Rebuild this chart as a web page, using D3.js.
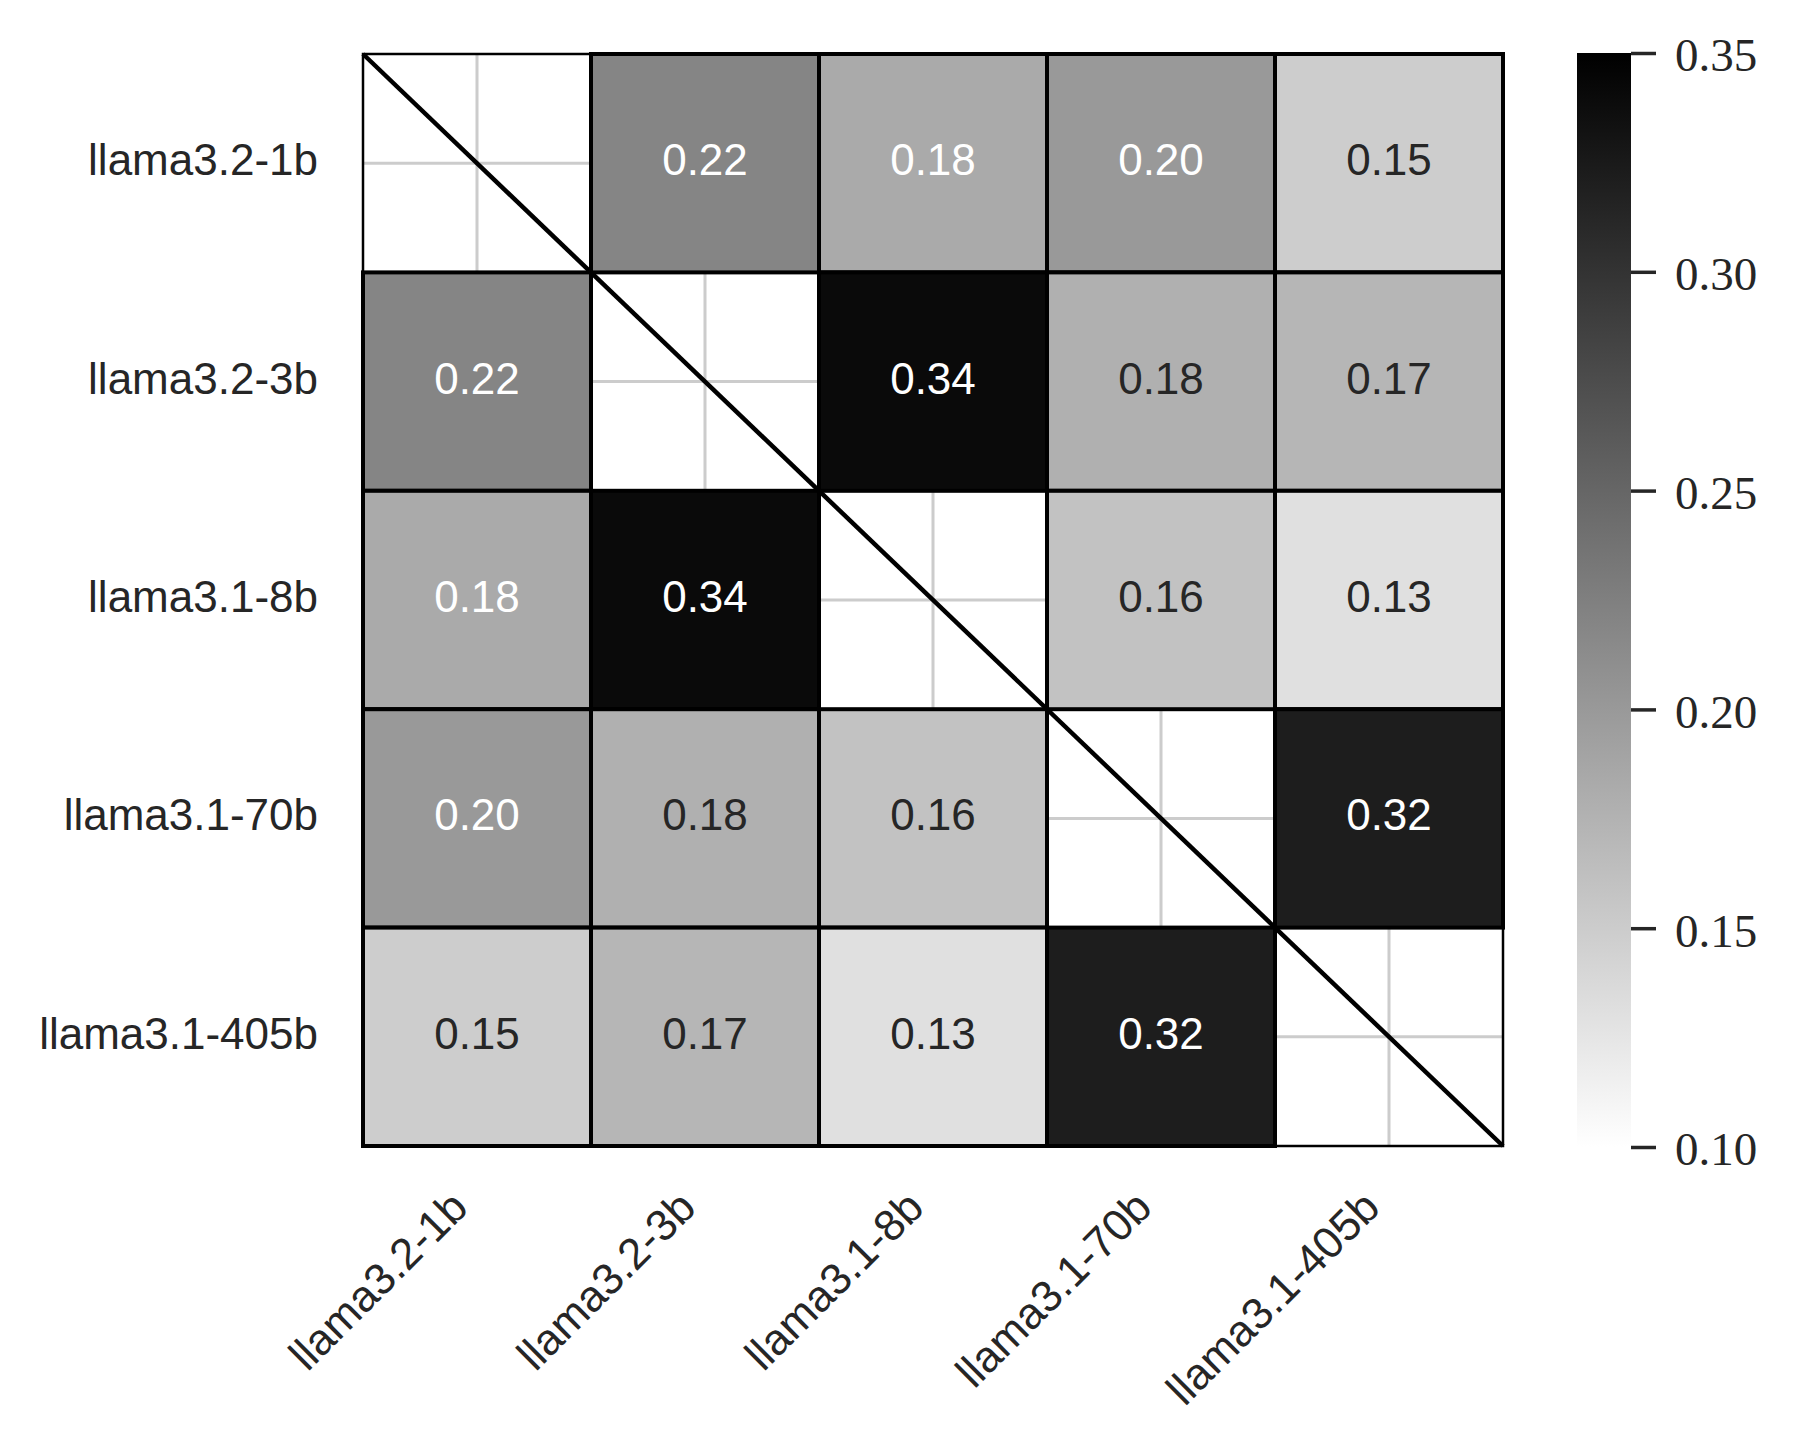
<!DOCTYPE html>
<html>
<head>
<meta charset="utf-8">
<script src="https://cdn.jsdelivr.net/npm/d3@7"></script>
<style>
  body { margin: 0; background: #fff; }
  .lbl { font-family: "Liberation Sans", Arial, sans-serif; font-size: 44px; fill: #262626; }
  .cbar text { font-family: "Liberation Serif", "DejaVu Serif", serif; font-size: 47px; fill: #262626; }
</style>
</head>
<body>
<div id="chart"></div>
<script>
// models compared (rows and columns)
var models = ["llama3.2-1b", "llama3.2-3b", "llama3.1-8b", "llama3.1-70b", "llama3.1-405b"];

// pairwise scores, diagonal left empty
var row1b   = [null,  0.22,  0.183, 0.20,  0.149];
var row3b   = [0.22,  null,  0.34,  0.177, 0.172];
var row8b   = [0.183, 0.34,  null,  0.16,  0.13];
var row70b  = [0.20,  0.177, 0.16,  null,  0.322];
var row405b = [0.149, 0.172, 0.13,  0.322, null];

var cbarTicks = [0.10, 0.15, 0.20, 0.25, 0.30, 0.35];

var rows = [row1b, row3b, row8b, row70b, row405b];

var W = 1797, H = 1456;
var plot = {left: 363, right: 1503, top: 54, bottom: 1146};

var svg = d3.select("#chart").append("svg")
  .attr("width", W).attr("height", H)
  .style("background", "#fff");

var x = d3.scaleBand().domain(models).range([plot.left, plot.right]);
var y = d3.scaleBand().domain(models).range([plot.top, plot.bottom]);
var color = d3.scaleLinear().domain([0.10, 0.35]).range(["#ffffff", "#000000"]);

// grid lines through cell centres (only seen in empty cells)
var grid = svg.append("g");
models.forEach(function(m) {
  grid.append("line")
    .attr("x1", x(m) + x.bandwidth() / 2).attr("x2", x(m) + x.bandwidth() / 2)
    .attr("y1", plot.top).attr("y2", plot.bottom)
    .attr("stroke", "#cccccc").attr("stroke-width", 3);
  grid.append("line")
    .attr("y1", y(m) + y.bandwidth() / 2).attr("y2", y(m) + y.bandwidth() / 2)
    .attr("x1", plot.left).attr("x2", plot.right)
    .attr("stroke", "#cccccc").attr("stroke-width", 3);
});

var cells = [];
rows.forEach(function(r, i) {
  r.forEach(function(v, j) {
    if (v !== null) cells.push({row: models[i], col: models[j], value: v});
  });
});

function textColor(v) {
  var c = d3.rgb(color(v));
  var lin = function(u) { u = u / 255; return u <= 0.03928 ? u / 12.92 : Math.pow((u + 0.055) / 1.055, 2.4); };
  var lum = 0.2126 * lin(c.r) + 0.7152 * lin(c.g) + 0.0722 * lin(c.b);
  return lum > 0.408 ? "#262626" : "#ffffff";
}

var cg = svg.append("g");
cg.selectAll("rect").data(cells).enter().append("rect")
  .attr("x", function(d) { return x(d.col); })
  .attr("y", function(d) { return y(d.row); })
  .attr("width", x.bandwidth())
  .attr("height", y.bandwidth())
  .attr("fill", function(d) { return color(d.value); })
  .attr("stroke", "#000").attr("stroke-width", 4);

cg.selectAll("text").data(cells).enter().append("text")
  .attr("class", "lbl")
  .attr("x", function(d) { return x(d.col) + x.bandwidth() / 2; })
  .attr("y", function(d) { return y(d.row) + y.bandwidth() / 2 + 12; })
  .attr("text-anchor", "middle")
  .style("fill", function(d) { return textColor(d.value); })
  .text(function(d) { return d3.format(".2f")(d.value); });

// frame and diagonal
svg.append("rect")
  .attr("x", plot.left).attr("y", plot.top)
  .attr("width", plot.right - plot.left).attr("height", plot.bottom - plot.top)
  .attr("fill", "none").attr("stroke", "#000").attr("stroke-width", 2.5);

svg.append("line")
  .attr("x1", plot.left).attr("y1", plot.top)
  .attr("x2", plot.right).attr("y2", plot.bottom)
  .attr("stroke", "#000").attr("stroke-width", 4.5);

// y tick labels
svg.append("g").selectAll("text").data(models).enter().append("text")
  .attr("class", "lbl")
  .attr("x", plot.left - 45)
  .attr("y", function(d) { return y(d) + y.bandwidth() / 2 + 12; })
  .attr("text-anchor", "end")
  .text(function(d) { return d; });

// x tick labels, rotated
svg.append("g").selectAll("text").data(models).enter().append("text")
  .attr("class", "lbl")
  .attr("text-anchor", "end")
  .attr("transform", function(d) {
    return "translate(" + (x(d) + x.bandwidth() / 2 - 7) + "," + (plot.bottom + 64) + ") rotate(-45)";
  })
  .text(function(d) { return d; });

// colorbar
var cb = {left: 1577, width: 54};
var cy = d3.scaleLinear().domain([0.10, 0.35]).range([1147, 53]);

var grad = svg.append("defs").append("linearGradient")
  .attr("id", "cbgrad").attr("x1", 0).attr("y1", 1).attr("x2", 0).attr("y2", 0);
grad.append("stop").attr("offset", "0%").attr("stop-color", color(0.10));
grad.append("stop").attr("offset", "100%").attr("stop-color", color(0.35));

svg.append("rect")
  .attr("x", cb.left).attr("y", cy(0.35))
  .attr("width", cb.width).attr("height", cy(0.10) - cy(0.35))
  .attr("fill", "url(#cbgrad)");

var cax = svg.append("g")
  .attr("class", "cbar")
  .attr("transform", "translate(" + (cb.left + cb.width) + ",0)")
  .call(d3.axisRight(cy).tickValues(cbarTicks).tickSize(25).tickPadding(19).tickFormat(d3.format(".2f")));
cax.select(".domain").remove();
cax.selectAll(".tick line").attr("stroke", "#262626").attr("stroke-width", 3.5);
cax.selectAll(".tick text").attr("dy", "0.38em");
</script>
</body>
</html>
